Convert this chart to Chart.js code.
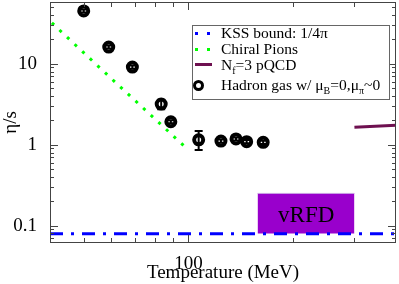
<!DOCTYPE html>
<html>
<head>
<meta charset="utf-8">
<script src="https://cdn.jsdelivr.net/npm/chart.js@4"></script>
<style>
html, body { margin: 0; padding: 0; background: #fff; }
#wrap { position: relative; width: 399px; height: 284px; font-family: 'Liberation Serif', serif; }
#chart { position: absolute; left: 0; top: 0; }
#legend { position: absolute; left: 192px; top: 25px; width: 196px; height: 73px; border: 1px solid #666; background: #fff; }
.item { position: absolute; left: 28px; font-size: 15.5px; line-height: 16px; white-space: nowrap; color: #000; }
.sub { font-size: 10px; position: relative; top: 4px; }
.dot { position: absolute; width: 3px; height: 3px; }
</style>
</head>
<body>
<div id="wrap">
  <canvas id="chart" width="399" height="284"></canvas>
  <div id="legend">
    <div class="dot" style="left:2px;top:6px;background:#0000ff"></div>
    <div class="dot" style="left:14px;top:6px;background:#0000ff"></div>
    <div class="item" style="top:-1px">KSS bound: 1/4π</div>
    <div class="dot" style="left:2px;top:22px;background:#00ff00"></div>
    <div class="dot" style="left:14px;top:22px;background:#00ff00"></div>
    <div class="item" style="top:15px">Chiral Pions</div>
    <div style="position:absolute;left:2px;top:37px;width:17px;height:3px;background:#6e1050"></div>
    <div class="item" style="top:31px">N<span class="sub">f</span>=3 pQCD</div>
    <div style="position:absolute;left:0px;top:54px;width:5px;height:5px;border:3px solid #000;border-radius:50%"></div>
    <div class="item" style="top:51px">Hadron gas w/ μ<span class="sub">B</span>=0,μ<span class="sub">π</span>~0</div>
  </div>
</div>
<script>
// values
const hadronT   = [50, 59, 69, 83.5, 89, 107, 124, 137, 147, 164];
const hadronEta = [45, 16.1, 9.1, 3.18, 1.92, 1.15, 1.11, 1.18, 1.09, 1.07];
const hadronLo  = [43, 15.4, 8.7, 2.75, 1.84, 0.86, 1.06, 1.13, 1.04, 1.02];
const hadronHi  = [47, 16.8, 9.5, 3.6, 2.0, 1.48, 1.16, 1.23, 1.14, 1.12];

const kssT = [40, 395];
const kssEta = [0.0796, 0.0796];

const chiralT = [40.5, 57.5, 100];
const chiralEta = [32, 7.8, 0.86];

const pqcdT = [300, 395];
const pqcdEta = [1.64, 1.74];

const vrfdT = [158, 300];
const vrfdTop = [0.25, 0.25];
const vrfdBottom = 0.08;
const vrfdLabel = { text: 'vRFD', t: 218, eta: 0.13 };

const xTicks = [50, 60, 70, 80, 90, 100, 200, 300];
const xLabels = [100];
const yTicks = [0.07, 0.08, 0.09, 0.1, 0.2, 0.3, 0.4, 0.5, 0.6, 0.7, 0.8, 0.9,
                1, 2, 3, 4, 5, 6, 7, 8, 9, 10, 20, 30, 40, 50];
const yLabels = [0.1, 1, 10];

const pts = (xs, ys) => xs.map((x, i) => ({ x: x, y: ys[i] }));

Chart.defaults.font.family = "'Liberation Serif', serif";
Chart.defaults.color = '#000';

function noPad(s) {
    s.paddingTop = 0; s.paddingBottom = 0;
    s.paddingLeft = 0; s.paddingRight = 0;
}

// error bars + vRFD text
const extras = {
    id: 'extras',
    afterDatasetsDraw(chart) {
        const { ctx, scales: { x, y } } = chart;
        ctx.save();
        ctx.strokeStyle = '#000';
        ctx.lineWidth = 2;
        hadronT.forEach((t, i) => {
            const px = x.getPixelForValue(t);
            const lo = y.getPixelForValue(hadronLo[i]);
            const hi = y.getPixelForValue(hadronHi[i]);
            ctx.beginPath();
            ctx.moveTo(px, lo); ctx.lineTo(px, hi);
            ctx.moveTo(px - 4, lo); ctx.lineTo(px + 4, lo);
            ctx.moveTo(px - 4, hi); ctx.lineTo(px + 4, hi);
            ctx.stroke();
        });
        ctx.fillStyle = '#000';
        ctx.font = "23px 'Liberation Serif', serif";
        ctx.textAlign = 'center';
        ctx.textBaseline = 'middle';
        ctx.fillText(vrfdLabel.text, x.getPixelForValue(vrfdLabel.t), y.getPixelForValue(vrfdLabel.eta));
        ctx.restore();
    }
};

// frame with inward ticks on all four sides
const frameTicks = {
    id: 'frameTicks',
    afterDraw(chart) {
        const { ctx, chartArea: a, scales: { x, y } } = chart;
        ctx.save();
        ctx.strokeStyle = '#444';
        ctx.lineWidth = 1;
        ctx.strokeRect(a.left + 0.5, a.top + 0.5, a.right - a.left - 1, a.bottom - a.top - 1);
        ctx.beginPath();
        xTicks.forEach(t => {
            const px = Math.round(x.getPixelForValue(t)) + 0.5;
            const len = xLabels.includes(t) ? 8 : 5;
            ctx.moveTo(px, a.bottom); ctx.lineTo(px, a.bottom - len);
            ctx.moveTo(px, a.top); ctx.lineTo(px, a.top + len);
        });
        yTicks.forEach(v => {
            const py = Math.round(y.getPixelForValue(v)) + 0.5;
            const len = yLabels.includes(v) ? 8 : 4;
            ctx.moveTo(a.left, py); ctx.lineTo(a.left + len, py);
            ctx.moveTo(a.right, py); ctx.lineTo(a.right - len, py);
        });
        ctx.stroke();
        ctx.restore();
    }
};

new Chart(document.getElementById('chart'), {
    type: 'line',
    data: {
        datasets: [
            {
                label: 'Hadron gas',
                data: pts(hadronT, hadronEta),
                showLine: false,
                pointRadius: 4.5,
                pointBorderWidth: 4,
                pointBackgroundColor: '#fff',
                pointBorderColor: '#000'
            },
            {
                label: 'KSS bound',
                data: pts(kssT, kssEta),
                borderColor: '#0000ff',
                borderWidth: 3,
                borderDash: [13, 8, 3, 8],
                pointRadius: 0
            },
            {
                label: 'Chiral Pions',
                data: pts(chiralT, chiralEta),
                borderColor: '#00ff00',
                borderWidth: 3,
                borderDash: [3, 7.4],
                pointRadius: 0
            },
            {
                label: 'pQCD',
                data: pts(pqcdT, pqcdEta),
                borderColor: '#6e1050',
                borderWidth: 3,
                pointRadius: 0
            },
            {
                label: 'vRFD',
                data: pts(vrfdT, vrfdTop),
                borderColor: '#c9a0e6',
                borderWidth: 1,
                backgroundColor: '#9900cc',
                fill: { value: vrfdBottom },
                pointRadius: 0
            }
        ]
    },
    options: {
        responsive: false,
        animation: false,
        events: [],
        layout: { autoPadding: false, padding: { top: 2, right: 3, left: 0, bottom: 0 } },
        plugins: { legend: { display: false }, tooltip: { enabled: false } },
        scales: {
            x: {
                type: 'logarithmic',
                min: 40,
                max: 395,
                grid: { display: false },
                border: { display: false },
                afterBuildTicks: s => { s.ticks = xTicks.map(v => ({ value: v })); },
                afterFit: s => { s.height = 41; noPad(s); },
                ticks: {
                    autoSkip: false,
                    maxRotation: 0,
                    padding: 2,
                    font: { size: 19 },
                    callback: v => xLabels.includes(v) ? String(v) : ''
                },
                title: {
                    display: true,
                    text: 'Temperature (MeV)',
                    font: { size: 19 },
                    padding: { top: 0, bottom: 0 }
                }
            },
            y: {
                type: 'logarithmic',
                min: 0.061,
                max: 58,
                grid: { display: false },
                border: { display: false },
                afterBuildTicks: s => { s.ticks = yTicks.map(v => ({ value: v })); },
                afterFit: s => { s.width = 50; noPad(s); },
                ticks: {
                    autoSkip: false,
                    padding: 5,
                    font: { size: 19 },
                    callback: v => yLabels.includes(v) ? String(v) : ''
                },
                title: {
                    display: true,
                    text: 'η/s',
                    font: { size: 19 },
                    padding: { top: 0, bottom: 0 }
                }
            }
        }
    },
    plugins: [extras, frameTicks]
});
</script>
</body>
</html>
